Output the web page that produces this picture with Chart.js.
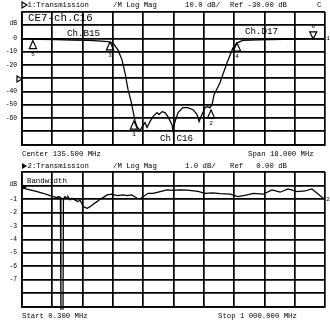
<!DOCTYPE html>
<html><head><meta charset="utf-8">
<script src="https://cdn.jsdelivr.net/npm/chart.js@4"></script>
<style>
html,body{margin:0;padding:0;background:#fff;}
#wrap{position:relative;width:330px;height:321px;overflow:hidden;background:#fff;}
#c1{position:absolute;left:0;top:0;width:330px;height:160px;}
#c2{position:absolute;left:0;top:160px;width:330px;height:161px;}
</style></head><body>
<div id="wrap"><canvas id="c1" width="330" height="160"></canvas><canvas id="c2" width="330" height="161"></canvas></div>
<script>
// ---- Trace 1 (narrow span, MHz / dB) ----
const topFreqMHz = [126.5,127.5,128.5,129.5,130.5,131.2,131.6,131.9,132.2,132.44,132.62,132.8,132.98,133.1,133.21,133.33,133.51,133.67,133.81,133.93,134.1,134.28,134.52,134.64,134.82,135.0,135.17,135.41,135.47,135.59,135.77,136.06,136.36,136.66,136.9,137.02,137.19,137.37,137.49,137.67,137.79,137.91,138.26,138.68,139.03,139.27,139.62,140.5,142.0,143.5,144.5];
const topDb = [-0.3,-0.6,-0.9,-1.2,-1.5,-1.9,-2.4,-3.5,-8.6,-16.1,-25.9,-38.6,-47.5,-55,-62,-66.5,-69.5,-66,-63.5,-67.2,-62.7,-59,-55.9,-57.4,-55.2,-55.9,-59,-65,-69.5,-62.7,-55.9,-52.2,-52.2,-53.7,-57.4,-62.7,-57.4,-52.2,-51.4,-52.2,-49.9,-42.4,-33.4,-18.3,-7.1,-3.3,-1.5,-1.0,-0.6,-0.3,-0.2];
const topMarkerNames = ['1','2','3','4','5','6'];
const topMarkerFreqMHz = [133.15,137.73,131.73,139.27,127.15,143.8];
const topMarkerDb = [-62.3,-54.0,-2.6,-3.4,-1.6,-0.3];
const topTickLabels = {'0':'0','-10':'-10','-20':'-20','-40':'-40','-50':'-50','-60':'-60'};
// ---- Trace 2 (wide span, MHz / dB) ----
const botFreqMHz = [0.3,13,27,50,70,93,103,116,119,127,128.7,135.5,137,142,149,152,159,165,175,185,192,202,215,225,235,248,258,268,281,297,314,334,347,363,380,390,400,416,433,456,479,499,520,545,581,604,630,654,687,713,743,763,796,825,852,878,908,934,957,974,994,1000];
const botDb = [-0.15,-0.25,-0.33,-0.46,-0.58,-0.76,-0.83,-0.9,-0.83,-0.88,-9.8,-9.8,-1.0,-0.83,-0.95,-0.83,-1.07,-0.95,-1.07,-1.2,-1.07,-1.57,-1.69,-1.57,-1.39,-1.2,-1.0,-0.9,-0.7,-0.65,-0.76,-0.7,-0.76,-0.7,-0.95,-1.0,-0.83,-0.58,-0.58,-0.46,-0.33,-0.36,-0.33,-0.35,-0.44,-0.58,-0.55,-0.6,-0.65,-0.83,-0.7,-0.58,-0.65,-0.33,-0.5,-0.26,-0.46,-0.41,-0.26,-0.58,-0.95,-1.0];
const botTickLabels = {'-1':'-1','-2':'-2','-3':'-3','-4':'-4','-5':'-5','-6':'-6','-7':'-7'};

const FONT = '"Liberation Mono","DejaVu Sans Mono",monospace';
const mono = px => px + 'px ' + FONT;

const vnaPlugin = {
  id: 'vna',
  afterDatasetsDraw(chart, args, o) {
    const ctx = chart.ctx, xs = chart.scales.x, ys = chart.scales.y, ca = chart.chartArea;
    ctx.save();
    ctx.fillStyle = '#000'; ctx.strokeStyle = '#000'; ctx.textBaseline = 'middle';
    const h = o.headTri;
    ctx.beginPath(); ctx.moveTo(h.x, h.y - 3); ctx.lineTo(h.x + 5, h.y); ctx.lineTo(h.x, h.y + 3); ctx.closePath();
    if (h.filled) ctx.fill(); else { ctx.lineWidth = 1.2; ctx.stroke(); }
    const ry = ys.getPixelForValue(o.refValue) + (o.refDy || 0);
    const rx = o.refX;
    ctx.beginPath(); ctx.moveTo(rx, ry - 3); ctx.lineTo(rx + 5, ry); ctx.lineTo(rx, ry + 3); ctx.closePath();
    if (o.refFilled) ctx.fill(); else { ctx.fillStyle = '#fff'; ctx.fill(); ctx.lineWidth = 1.2; ctx.stroke(); ctx.fillStyle = '#000'; }
    for (const t of o.texts) {
      ctx.font = t.font; ctx.textAlign = t.align || 'left';
      ctx.fillText(t.text, t.x, t.y);
    }
    const m = o.markers;
    if (m) {
      m.names.forEach((n, i) => {
        const px = xs.getPixelForValue(m.freq[i]), py = ys.getPixelForValue(m.db[i]);
        const dn = (n === m.active);
        ctx.beginPath();
        if (!dn) { ctx.moveTo(px, py); ctx.lineTo(px - 3.6, py + 8); ctx.lineTo(px + 3.6, py + 8); }
        else { ctx.moveTo(px, py); ctx.lineTo(px - 3.6, py - 7); ctx.lineTo(px + 3.6, py - 7); }
        ctx.closePath(); ctx.lineWidth = 1.2; ctx.stroke();
        ctx.font = mono(6); ctx.textAlign = 'center';
        ctx.fillText(n, px, dn ? py - 12.5 : py + 13.5);
      });
    }
    const ds = chart.data.datasets[0].data;
    const last = ds[ds.length - 1];
    ctx.font = mono(6); ctx.textAlign = 'center';
    ctx.fillText(o.traceNum, ca.right + 3, ys.getPixelForValue(last.y));
    ctx.restore();
  }
};

function makeChart(id, freq, db, xmin, xmax, ymin, ymax, labels, padBottom, clipBottom, pluginOpts) {
  const pts = freq.map((f, i) => ({ x: f, y: db[i] }));
  return new Chart(document.getElementById(id), {
    type: 'line',
    data: { datasets: [{ data: pts, borderColor: '#000', borderWidth: 1.25, pointRadius: 0, tension: 0, fill: false,
      clip: { left: 0, top: 0, right: 0, bottom: clipBottom } }] },
    plugins: [vnaPlugin],
    options: {
      responsive: false, animation: false, devicePixelRatio: 1,
      layout: { padding: { left: 0, right: 5, top: 12, bottom: padBottom } },
      plugins: { legend: { display: false }, tooltip: { enabled: false }, title: { display: false }, vna: pluginOpts },
      scales: {
        x: {
          type: 'linear', min: xmin, max: xmax,
          afterBuildTicks(s) { s.ticks = Array.from({ length: 11 }, (_, i) => ({ value: xmin + (xmax - xmin) * i / 10 })); },
          afterFit(s) { s.height = 0; },
          ticks: { display: false },
          grid: { color: '#000', lineWidth: 1.7, drawTicks: false },
          border: { display: true, color: '#000', width: 1.7 }
        },
        y: {
          type: 'linear', min: ymin, max: ymax,
          afterBuildTicks(s) { const st = (ymax - ymin) / 10; s.ticks = Array.from({ length: 11 }, (_, i) => ({ value: ymin + st * i })); },
          afterFit(s) { s.width = 22; },
          ticks: { callback: v => labels[String(Math.round(v))] || '', font: { family: FONT, size: 6.3 }, color: '#000', padding: 5, autoSkip: false },
          grid: { color: '#000', lineWidth: 1.7, drawTicks: false },
          border: { display: true, color: '#000', width: 1.7 }
        }
      }
    }
  });
}

makeChart('c1', topFreqMHz, topDb, 126.5, 144.5, -80, 20, topTickLabels, 15.5, 0, {
  headTri: { x: 22, y: 5, filled: false },
  refValue: -30, refX: 17, refFilled: false, refDy: 0.8,
  traceNum: '1',
  markers: { names: topMarkerNames, freq: topMarkerFreqMHz, db: topMarkerDb, active: '6' },
  texts: [
    { text: '1:Transmission', x: 27.5, y: 5, font: mono(7.3) },
    { text: '/M Log Mag', x: 113, y: 5, font: mono(7.3) },
    { text: '10.0 dB/', x: 185, y: 5, font: mono(7.3) },
    { text: 'Ref -30.00 dB', x: 230, y: 5, font: mono(7.3) },
    { text: 'C', x: 317, y: 5, font: mono(7.3) },
    { text: 'dB', x: 17, y: 23, font: mono(6.3), align: 'right' },
    { text: 'CE7-ch.C16', x: 28, y: 18.5, font: mono(10.8) },
    { text: 'Ch.B15', x: 67, y: 34, font: mono(9.2) },
    { text: 'Ch.D17', x: 245, y: 32, font: mono(9.2) },
    { text: 'Ch.C16', x: 160, y: 138.5, font: mono(9.2) },
    { text: 'Center 135.500 MHz', x: 22, y: 154.5, font: mono(7.3) },
    { text: 'Span 18.000 MHz', x: 248, y: 154.5, font: mono(7.3) }
  ]
});

makeChart('c2', botFreqMHz, botDb, 0.3, 1000, -9, 1, botTickLabels, 14.3, 3, {
  headTri: { x: 22, y: 6, filled: true },
  refValue: 0, refX: 22, refFilled: true, refDy: 1.5,
  traceNum: '2',
  texts: [
    { text: '2:Transmission', x: 27.5, y: 6, font: mono(7.3) },
    { text: '/M Log Mag', x: 113, y: 6, font: mono(7.3) },
    { text: '1.0 dB/', x: 185, y: 6, font: mono(7.3) },
    { text: 'Ref   0.00 dB', x: 230, y: 6, font: mono(7.3) },
    { text: 'dB', x: 17, y: 24, font: mono(6.3), align: 'right' },
    { text: 'Bandwidth', x: 27, y: 21, font: mono(7.4) },
    { text: 'Start 0.300 MHz', x: 22, y: 156, font: mono(7.3) },
    { text: 'Stop 1 000.000 MHz', x: 218, y: 156, font: mono(7.3) }
  ]
});
</script>
</body></html>
